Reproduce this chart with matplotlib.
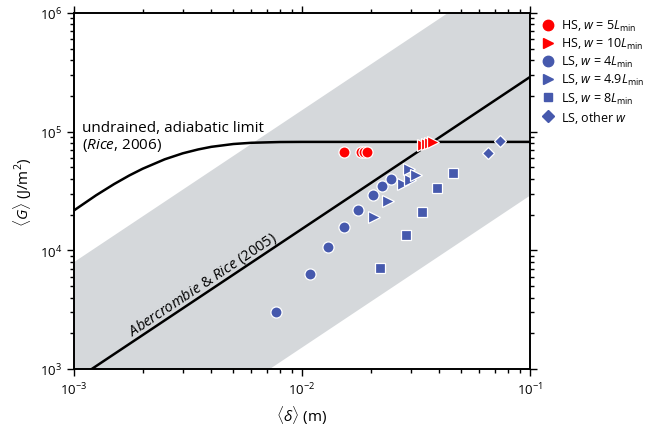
import matplotlib
matplotlib.use("Agg")
import matplotlib.pyplot as plt
from matplotlib.lines import Line2D

plt.rcParams['font.family'] = ['Open Sans', 'DejaVu Sans']
plt.rcParams['mathtext.fontset'] = 'custom'
plt.rcParams['mathtext.rm'] = 'Open Sans'
plt.rcParams['mathtext.it'] = 'Open Sans:italic'
plt.rcParams['mathtext.bf'] = 'Open Sans:bold'

blue = '#4659ad'
red = '#ff0000'
band_gray = '#d5d8db'

# undrained, adiabatic limit curve
rice_d = [1e-3, 1.25e-3, 1.5e-3, 1.75e-3, 2e-3, 2.5e-3, 3e-3, 3.5e-3, 4e-3, 5e-3, 6e-3, 8e-3, 1e-2, 1e-1]
rice_g = [2.17e4, 2.91e4, 3.62e4, 4.28e4, 4.87e4, 5.85e4, 6.57e4, 7.08e4, 7.45e4, 7.87e4, 8.06e4, 8.18e4, 8.2e4, 8.2e4]

# Abercrombie & Rice (2005) scaling and its scatter band
ar_d = [1e-3, 1e-1]
ar_g = [795, 2.89e5]
band_lo = [79.5, 2.89e4]
band_hi = [7.95e3, 2.89e6]

# HS, w = 5 Lmin
hs5_d = [0.01533, 0.01815, 0.01879, 0.01937]
hs5_g = [6.7e4, 6.7e4, 6.7e4, 6.7e4]
# HS, w = 10 Lmin
hs10_d = [0.0340, 0.0353, 0.0364, 0.0375]
hs10_g = [7.72e4, 7.87e4, 8.02e4, 8.18e4]
# LS, w = 4 Lmin
ls4_d = [0.00767, 0.01084, 0.01304, 0.01524, 0.01754, 0.02042, 0.02245, 0.02465]
ls4_g = [3040, 6280, 1.06e4, 1.56e4, 2.20e4, 2.93e4, 3.47e4, 3.99e4]
# LS, w = 4.9 Lmin
ls49_d = [0.0207, 0.0239, 0.0278, 0.0298, 0.0294, 0.0316]
ls49_g = [1.92e4, 2.62e4, 3.60e4, 3.92e4, 4.80e4, 4.31e4]
# LS, w = 8 Lmin
ls8_d = [0.0220, 0.0285, 0.0337, 0.0390, 0.0460]
ls8_g = [7.1e3, 1.355e4, 2.09e4, 3.35e4, 4.46e4]
# LS, other w
lso_d = [0.0655, 0.0739]
lso_g = [6.61e4, 8.34e4]

fig = plt.figure(figsize=(6.52, 4.27), dpi=100)
ax = fig.add_axes([74/652, 1-370/427, 456/652, 356/427])
ax.set_xscale('log')
ax.set_yscale('log')
ax.set_xlim(1e-3, 1e-1)
ax.set_ylim(1e3, 1e6)

ax.fill_between(ar_d, band_lo, band_hi, color=band_gray, lw=0, zorder=1)
ax.plot(ar_d, ar_g, color='black', lw=1.8, zorder=2)
ax.plot(rice_d, rice_g, color='black', lw=1.8, zorder=2)

mk = dict(ls='none', mec='white', mew=0.9, zorder=3)
ax.plot(hs5_d, hs5_g, 'o', color=red, ms=8, **mk)
ax.plot(hs10_d, hs10_g, '>', color=red, ms=8.5, **mk)
ax.plot(ls4_d, ls4_g, 'o', color=blue, ms=8, **mk)
ax.plot(ls49_d, ls49_g, '>', color=blue, ms=8.5, **mk)
ax.plot(ls8_d, ls8_g, 's', color=blue, ms=6.5, **mk)
ax.plot(lso_d, lso_g, 'D', color=blue, ms=6.5, **mk)

ax.text(1.08e-3, 6.6e4, 'undrained, adiabatic limit\n($Rice$, 2006)',
        fontsize=11, ha='left', va='bottom', linespacing=1.05, zorder=4)
ax.text(3.68e-3, 5.2e3, r'$Abercrombie$ & $Rice$ (2005)', fontsize=10.5,
        rotation=33.7, rotation_mode='anchor', ha='center', va='center', zorder=4)

ax.set_xlabel(r'$\langle\delta\rangle$ (m)', fontsize=11, labelpad=5)
ax.set_ylabel(r'$\langle G\rangle$ (J/m$^2$)', fontsize=11)

for s in ax.spines.values():
    s.set_linewidth(1.4)
ax.tick_params(which='both', direction='out', top=True, right=True, width=1, labelsize=9.5)
ax.tick_params(which='major', length=5)
ax.tick_params(which='minor', length=3)

handles = [
    Line2D([], [], ls='none', marker='o', color=red, ms=7.5),
    Line2D([], [], ls='none', marker='>', color=red, ms=7.5),
    Line2D([], [], ls='none', marker='o', color=blue, ms=7.5),
    Line2D([], [], ls='none', marker='>', color=blue, ms=7.5),
    Line2D([], [], ls='none', marker='s', color=blue, ms=6),
    Line2D([], [], ls='none', marker='D', color=blue, ms=6),
]
labels = [r'HS, $w$ = 5$L_{\mathrm{min}}$', r'HS, $w$ = 10$L_{\mathrm{min}}$',
          r'LS, $w$ = 4$L_{\mathrm{min}}$', r'LS, $w$ = 4.9$L_{\mathrm{min}}$',
          r'LS, $w$ = 8$L_{\mathrm{min}}$', r'LS, other $w$']
fig.legend(handles, labels, loc='upper left', bbox_to_anchor=(543/652, 1-19/427),
           frameon=False, fontsize=9, handlelength=0.75, handletextpad=0.7,
           labelspacing=0.24, borderaxespad=0, borderpad=0)

fig.savefig('out.png', dpi=100)
